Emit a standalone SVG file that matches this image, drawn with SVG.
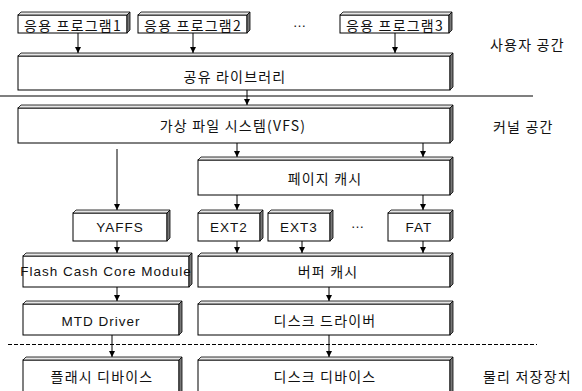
<svg xmlns="http://www.w3.org/2000/svg" width="582" height="391" viewBox="0 0 582 391">
<defs>
<style>
.front{fill:#fff;stroke:#000;stroke-width:1}
.top{fill:#e6e6e6;stroke:#000;stroke-width:0.8}
.side{fill:#777;stroke:#000;stroke-width:0.8}
.ko{font-family:"Noto Sans CJK KR","Liberation Sans",sans-serif;font-size:14px;letter-spacing:1.2px;fill:#111}
.en{font-family:"Liberation Sans","Noto Sans CJK KR",sans-serif;font-size:13.5px;letter-spacing:1px;fill:#111}
.mid{text-anchor:middle}
.conn line{stroke:#000;stroke-width:1}
.arr{marker-end:url(#ah)}
</style>
<marker id="ah" viewBox="0 0 6 6" refX="6" refY="3" markerWidth="6" markerHeight="6" markerUnits="userSpaceOnUse" orient="auto">
<path d="M0,0 L6,3 L0,6 Z" fill="#000"/>
</marker>
</defs>
<rect width="582" height="391" fill="#fff"/>

<!-- separators -->
<g id="separators">
<line x1="0" y1="96" x2="533" y2="96" stroke="#000" stroke-width="1.2"/>
<line x1="8" y1="344.5" x2="537" y2="344.5" stroke="#000" stroke-width="1" stroke-dasharray="4,2"/>
</g>

<g id="prog1">
<rect class="front" x="18" y="15" width="109" height="18"/>
<polygon class="top" points="18,15 21,12 130,12 127,15"/>
<polygon class="side" points="127,15 130,12 130,30 127,33"/>
<text class="ko mid" x="73" y="31">응용 프로그램1</text>
</g>
<g id="prog2">
<rect class="front" x="138" y="15" width="109" height="18"/>
<polygon class="top" points="138,15 141,12 250,12 247,15"/>
<polygon class="side" points="247,15 250,12 250,30 247,33"/>
<text class="ko mid" x="193" y="31">응용 프로그램2</text>
</g>
<g id="dots1"><text class="en mid" x="300" y="27">…</text></g>
<g id="prog3">
<rect class="front" x="340" y="15" width="109" height="18"/>
<polygon class="top" points="340,15 343,12 452,12 449,15"/>
<polygon class="side" points="449,15 452,12 452,30 449,33"/>
<text class="ko mid" x="395" y="31">응용 프로그램3</text>
</g>
<g id="label-user"><text class="ko" x="490" y="50">사용자 공간</text></g>

<g id="shared-lib">
<rect class="front" x="18" y="56" width="432" height="34"/>
<polygon class="top" points="18,56 21,53 453,53 450,56"/>
<polygon class="side" points="450,56 453,53 453,87 450,90"/>
<text class="ko mid" x="235" y="82">공유 라이브러리</text>
</g>

<g id="vfs">
<rect class="front" x="18" y="108" width="432" height="35"/>
<polygon class="top" points="18,108 21,105 453,105 450,108"/>
<polygon class="side" points="450,108 453,105 453,140 450,143"/>
<text class="ko mid" x="233" y="131">가상 파일 시스템(VFS)</text>
</g>
<g id="label-kernel"><text class="ko" x="493" y="132">커널 공간</text></g>

<g id="page-cache">
<rect class="front" x="198" y="160" width="252" height="35"/>
<polygon class="top" points="198,160 201,157 453,157 450,160"/>
<polygon class="side" points="450,160 453,157 453,192 450,195"/>
<text class="ko mid" x="325" y="184">페이지 캐시</text>
</g>

<g id="yaffs">
<rect class="front" x="73" y="213" width="94" height="28"/>
<polygon class="top" points="73,213 76,210 170,210 167,213"/>
<polygon class="side" points="167,213 170,210 170,238 167,241"/>
<text class="en mid" x="120" y="232">YAFFS</text>
</g>
<g id="ext2">
<rect class="front" x="198" y="213" width="62" height="28"/>
<polygon class="top" points="198,213 201,210 263,210 260,213"/>
<polygon class="side" points="260,213 263,210 263,238 260,241"/>
<text class="en mid" x="229" y="232">EXT2</text>
</g>
<g id="ext3">
<rect class="front" x="268" y="213" width="62" height="28"/>
<polygon class="top" points="268,213 271,210 333,210 330,213"/>
<polygon class="side" points="330,213 333,210 333,238 330,241"/>
<text class="en mid" x="299" y="232">EXT3</text>
</g>
<g id="dots2"><text class="en mid" x="358" y="228">…</text></g>
<g id="fat">
<rect class="front" x="388" y="213" width="62" height="28"/>
<polygon class="top" points="388,213 391,210 453,210 450,213"/>
<polygon class="side" points="450,213 453,210 453,238 450,241"/>
<text class="en mid" x="419" y="232">FAT</text>
</g>

<g id="flash-core">
<rect class="front" x="23" y="256" width="166" height="31"/>
<polygon class="top" points="23,256 26,253 192,253 189,256"/>
<polygon class="side" points="189,256 192,253 192,284 189,287"/>
<text class="en mid" x="106" y="276">Flash Cash Core Module</text>
</g>
<g id="buffer-cache">
<rect class="front" x="198" y="256" width="252" height="31"/>
<polygon class="top" points="198,256 201,253 453,253 450,256"/>
<polygon class="side" points="450,256 453,253 453,284 450,287"/>
<text class="ko mid" x="328" y="277">버퍼 캐시</text>
</g>

<g id="mtd">
<rect class="front" x="23" y="304" width="156" height="31"/>
<polygon class="top" points="23,304 26,301 182,301 179,304"/>
<polygon class="side" points="179,304 182,301 182,332 179,335"/>
<text class="en mid" x="101" y="326">MTD Driver</text>
</g>
<g id="disk-driver">
<rect class="front" x="198" y="304" width="252" height="31"/>
<polygon class="top" points="198,304 201,301 453,301 450,304"/>
<polygon class="side" points="450,304 453,301 453,332 450,335"/>
<text class="ko mid" x="325" y="326">디스크 드라이버</text>
</g>

<g id="flash-device">
<rect class="front" x="23" y="360" width="156" height="36"/>
<polygon class="top" points="23,360 26,357 182,357 179,360"/>
<polygon class="side" points="179,360 182,357 182,393 179,396"/>
<text class="ko mid" x="102" y="382">플래시 디바이스</text>
</g>
<g id="disk-device">
<rect class="front" x="198" y="360" width="252" height="36"/>
<polygon class="top" points="198,360 201,357 453,357 450,360"/>
<polygon class="side" points="450,360 453,357 453,393 450,396"/>
<text class="ko mid" x="325" y="382">디스크 디바이스</text>
</g>
<g id="label-phys"><text class="ko" x="483" y="382">물리 저장장치</text></g>

<g id="connectors" class="conn">
<line class="arr" x1="78" y1="33" x2="78" y2="53"/>
<line class="arr" x1="193" y1="33" x2="193" y2="53"/>
<line class="arr" x1="395" y1="33" x2="395" y2="53"/>
<line class="arr" x1="247" y1="90" x2="247" y2="105"/>
<line class="arr" x1="117" y1="149" x2="117" y2="210"/>
<line class="arr" x1="237" y1="143" x2="237" y2="157"/>
<line class="arr" x1="423" y1="143" x2="423" y2="157"/>
<line class="arr" x1="237" y1="195" x2="237" y2="210"/>
<line class="arr" x1="423" y1="195" x2="423" y2="210"/>
<line class="arr" x1="117" y1="241" x2="117" y2="253"/>
<line class="arr" x1="237" y1="241" x2="237" y2="253"/>
<line class="arr" x1="302" y1="241" x2="302" y2="253"/>
<line class="arr" x1="423" y1="241" x2="423" y2="253"/>
<line class="arr" x1="117" y1="287" x2="117" y2="301"/>
<line class="arr" x1="329" y1="287" x2="329" y2="301"/>
<line class="arr" x1="112" y1="335" x2="112" y2="357"/>
<line class="arr" x1="329" y1="335" x2="329" y2="357"/>
</g>
</svg>
